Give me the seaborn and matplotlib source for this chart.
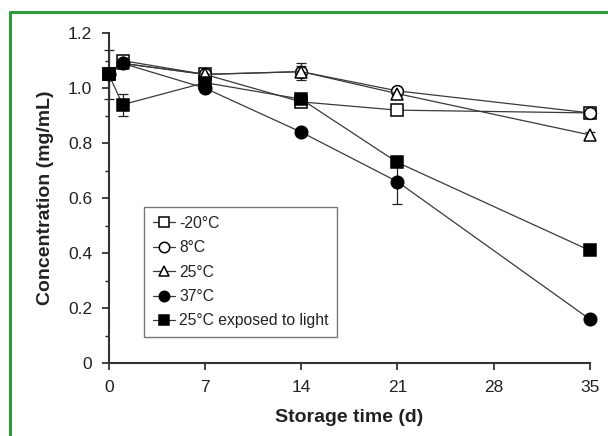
import numpy as np
import pandas as pd
import matplotlib
matplotlib.use("Agg")
import matplotlib.pyplot as plt
from matplotlib.lines import Line2D
import seaborn as sns

# storage days and measured concentrations (mg/mL)
days = [0, 1, 7, 14, 21, 35]
minus20 = [1.05, 1.10, 1.05, 0.95, 0.92, 0.91]
c8 = [1.05, 1.09, 1.05, 1.06, 0.99, 0.91]
c25 = [1.05, 1.09, 1.05, 1.06, 0.98, 0.83]
c37 = [1.05, 1.09, 1.00, 0.84, 0.66, 0.16]
light = [1.05, 0.94, 1.02, 0.96, 0.73, 0.41]

# standard deviations
err_minus20 = [0.01, 0.01, 0.01, 0.01, 0.01, 0.01]
err_c8 = [0.01, 0.01, 0.01, 0.03, 0.01, 0.01]
err_c25 = [0.01, 0.01, 0.01, 0.02, 0.01, 0.01]
err_c37 = [0.01, 0.01, 0.01, 0.01, 0.08, 0.01]
err_light = [0.09, 0.04, 0.01, 0.01, 0.01, 0.01]

labels = ["-20°C", "8°C", "25°C", "37°C", "25°C exposed to light"]
x_ticks = [0, 7, 14, 21, 28, 35]
y_ticks = [0, 0.2, 0.4, 0.6, 0.8, 1.0, 1.2]
y_tick_labels = ["0", "0.2", "0.4", "0.6", "0.8", "1.0", "1.2"]

series = [minus20, c8, c25, c37, light]
errors = [err_minus20, err_c8, err_c25, err_c37, err_light]
markers = ["s", "o", "^", "o", "s"]
filled = [False, False, False, True, True]
msizes = [8.5, 8.5, 8, 9, 9]

sns.set_theme(style="ticks")
plt.rcParams["font.family"] = ["Liberation Sans", "DejaVu Sans"]

fig, ax = plt.subplots(figsize=(6.08, 4.36), dpi=100)
fig.subplots_adjust(left=0.179, right=0.970, bottom=0.167, top=0.924)

line_col = "#3a3a3a"
for vals, errs, lab, mk, fl, ms in zip(series, errors, labels, markers, filled, msizes):
    df = pd.DataFrame({"day": days, "conc": vals})
    ax.errorbar(days, vals, yerr=errs, fmt="none", ecolor="#222222",
                elinewidth=0.9, capsize=3.5, capthick=0.9, zorder=2,
                clip_on=False)
    sns.lineplot(data=df, x="day", y="conc", ax=ax, color=line_col,
                 linewidth=0.9, marker=mk, markersize=ms,
                 markerfacecolor="black" if fl else "white",
                 markeredgecolor="black", markeredgewidth=1.1,
                 label=lab, zorder=3, clip_on=False)

ax.set_xlim(0, 35)
ax.set_ylim(0, 1.2)
ax.set_xticks(x_ticks)
ax.set_yticks(y_ticks)
ax.set_yticklabels(y_tick_labels)
ax.set_yticks(np.arange(0.1, 1.2, 0.2), minor=True)
ax.tick_params(axis="both", which="major", direction="out", length=5,
               width=1.2, labelsize=12.5, colors="#222222", pad=7)
ax.tick_params(axis="y", which="minor", direction="out", length=3,
               width=1.0, colors="#222222")
for side in ["top", "right"]:
    ax.spines[side].set_visible(False)
for side in ["left", "bottom"]:
    ax.spines[side].set_linewidth(1.5)
    ax.spines[side].set_color("#333333")

ax.set_xlabel("Storage time (d)", fontsize=14, fontweight="bold",
              color="#222222", labelpad=10)
ax.set_ylabel("Concentration (mg/mL)", fontsize=14, fontweight="bold",
              color="#222222", labelpad=10)

leg = ax.legend(loc="lower left", bbox_to_anchor=(0.073, 0.079),
                borderaxespad=0, fontsize=11.3, frameon=True, fancybox=False,
                handlelength=1.4, handletextpad=0.3, labelspacing=0.6,
                borderpad=0.55)
leg.get_frame().set_edgecolor("#555555")
leg.get_frame().set_linewidth(1.0)
for t in leg.get_texts():
    t.set_color("#222222")
for h in leg.legend_handles:
    h.set_markersize(7.5)

# green frame of the original figure (top and left edges)
green = "#2e9a3a"
fig.add_artist(Line2D([10 / 608, 1.0], [1 - 12 / 436, 1 - 12 / 436],
                      color=green, linewidth=2.2, transform=fig.transFigure))
fig.add_artist(Line2D([10 / 608, 10 / 608], [0.0, 1 - 12 / 436],
                      color=green, linewidth=2.2, transform=fig.transFigure))

fig.savefig("out.png", dpi=100)
